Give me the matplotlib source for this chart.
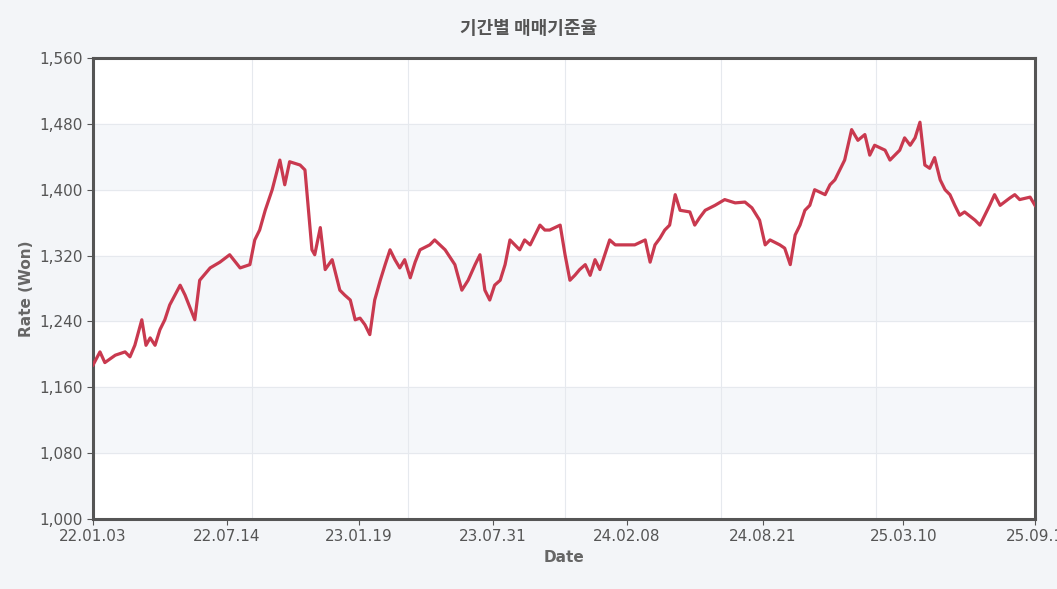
import matplotlib
matplotlib.use("Agg")
import matplotlib.pyplot as plt

# days since 2022-01-03
days = [0,10,17,32,46,53,60,70,76,82,89,96,103,110,125,132,146,153,168,182,196,211,225,232,239,247,257,268,275,282,297,304,314,318,326,333,343,354,361,369,376,383,390,397,404,412,419,426,433,440,447,455,462,469,483,490,505,519,529,538,548,555,562,569,576,584,591,598,605,612,619,627,634,641,648,655,670,677,684,691,698,706,713,720,727,734,741,749,763,777,792,799,806,813,820,827,835,842,856,863,870,878,892,906,921,935,945,956,964,971,985,992,1000,1007,1014,1021,1028,1035,1050,1057,1064,1071,1078,1088,1097,1107,1114,1121,1136,1143,1157,1164,1172,1179,1186,1193,1200,1207,1215,1222,1229,1236,1243,1250,1265,1272,1279,1286,1293,1301,1315,1322,1329,1344,1351]
rates = [1187,1203,1190,1199,1203,1197,1211,1242,1211,1220,1211,1230,1242,1260,1284,1272,1242,1290,1305,1312,1321,1305,1309,1339,1351,1375,1400,1436,1406,1434,1430,1424,1327,1321,1354,1303,1315,1278,1272,1266,1242,1244,1236,1224,1266,1290,1309,1327,1315,1305,1315,1293,1312,1327,1333,1339,1327,1309,1278,1290,1309,1321,1278,1266,1284,1290,1309,1339,1333,1327,1339,1333,1345,1357,1351,1351,1357,1321,1290,1296,1303,1309,1296,1315,1303,1321,1339,1333,1333,1333,1339,1312,1333,1341,1351,1357,1394,1375,1373,1357,1366,1375,1381,1388,1384,1385,1378,1363,1333,1339,1333,1329,1309,1345,1357,1375,1381,1400,1394,1406,1412,1424,1436,1473,1460,1467,1442,1454,1448,1436,1448,1463,1454,1463,1482,1430,1426,1439,1412,1400,1394,1381,1369,1373,1363,1357,1369,1381,1394,1381,1390,1394,1388,1391,1381]
tick_days = [0,192,381,574,766,961,1162,1351]
tick_labels = ["22.01.03","22.07.14","23.01.19","23.07.31","24.02.08","24.08.21","25.03.10","25.09.1"]
grid_days = [228,452,677,900,1123]
yticks = [1000,1080,1160,1240,1320,1400,1480,1560]

fig = plt.figure(figsize=(10.57,5.89), dpi=100)
fig.patch.set_facecolor("#f3f5f8")
ax = fig.add_axes([93/1057, 1-519/589, 942/1057, 461/589])
ax.set_facecolor("white")
for lo in [1080,1240,1400]:
    ax.axhspan(lo, lo+80, color="#f5f7fa", zorder=0)
for y in yticks:
    ax.axhline(y, color="#e6e9ee", lw=0.8, zorder=1)
for d in grid_days:
    ax.axvline(d, color="#e6e9ee", lw=0.8, zorder=1)
ax.plot(days, rates, color="#c9394f", lw=2.3, zorder=3)
ax.set_xlim(0,1351); ax.set_ylim(1000,1560)
ax.set_xticks(tick_days); ax.set_xticklabels(tick_labels)
ax.set_yticks(yticks); ax.set_yticklabels([f"{v:,}" for v in yticks])
ax.tick_params(colors="#555555", labelsize=11, length=4)
for s in ax.spines.values():
    s.set_color("#555555"); s.set_linewidth(2.2)
ax.set_xlabel("Date", fontsize=11, fontweight="bold", color="#666666")
ax.set_ylabel("Rate (Won)", fontsize=11, fontweight="bold", color="#666666")
fig.suptitle("기간별 매매기준율", y=0.968, fontsize=13, fontweight="bold", color="#555555", fontfamily="Noto Sans CJK KR")
fig.savefig("out.png", dpi=100, facecolor=fig.get_facecolor())
